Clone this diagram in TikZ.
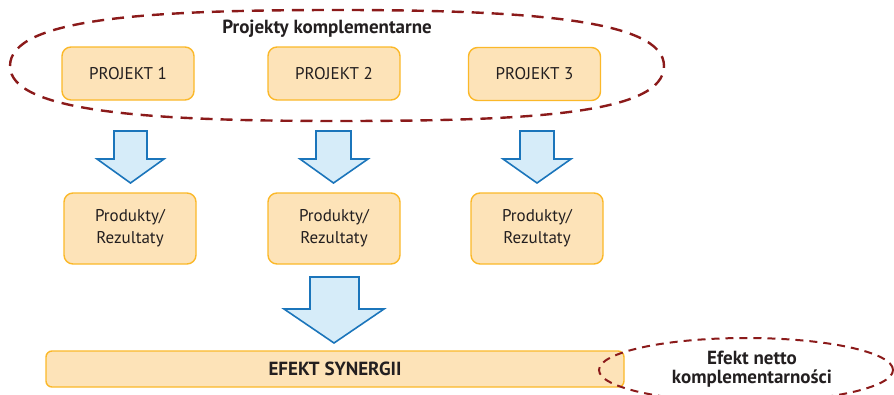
\documentclass[tikz,border=0pt]{standalone}
\usepackage{fontspec}
\setmainfont{PT Sans}
\definecolor{boxfill}{HTML}{FDE3B8}
\definecolor{boxline}{HTML}{FBB829}
\definecolor{arrfill}{HTML}{D6ECF9}
\definecolor{arrline}{HTML}{1B75BB}
\definecolor{dashred}{HTML}{8B1A1A}
\definecolor{txt}{HTML}{231F20}
\begin{document}
\begin{tikzpicture}[x=1pt,y=-1pt,
  box/.style={draw=boxline,fill=boxfill,line width=1.4pt,rounded corners=9pt,
    minimum width=132pt,text=txt,font=\fontsize{17}{22}\selectfont,align=center},
  blockarrow/.style={draw=arrline,fill=arrfill,line width=1.6pt,line join=miter},
  dashring/.style={draw=dashred,line width=2.4pt,dash pattern=on 12pt off 8pt},
  boldtxt/.style={text=txt,font=\bfseries\fontsize{19}{19.5}\selectfont,align=center}]
\useasboundingbox (0,0) rectangle (894,394);
% top dashed ring
\draw[dashring] (10,66) .. controls (10,18) and (150,10) .. (338,10)
  .. controls (530,10) and (664,20) .. (664,66)
  .. controls (664,114) and (530,121) .. (338,121)
  .. controls (150,121) and (10,112) .. (10,66);
\node[boldtxt] (title) at (327,29) {Projekty komplementarne};
% project boxes
\node[box,minimum height=53pt] (p1) at (128,73.5) {PROJEKT 1};
\node[box,minimum height=53pt] (p2) at (334,73.5) {PROJEKT 2};
\node[box,minimum height=53pt] (p3) at (534.5,74) {PROJEKT 3};
% result boxes
\node[box,minimum height=71pt] (r1) at (130,228.5) {Produkty/\\Rezultaty};
\node[box,minimum height=71pt] (r2) at (334,228.5) {Produkty/\\Rezultaty};
\node[box,minimum height=71pt] (r3) at (537,228.5) {Produkty/\\Rezultaty};
% small arrows
\draw[blockarrow] (114,131) -- (147,131) -- (147,159) -- (164,159) -- (130.5,183)
  -- (97,159) -- (114,159) -- cycle;
\draw[blockarrow] (316,131) -- (351,131) -- (351,159) -- (368,159) -- (333.5,183)
  -- (300,159) -- (316,159) -- cycle;
\draw[blockarrow] (520,131) -- (554,131) -- (554,159) -- (571,159) -- (537,183)
  -- (503,159) -- (520,159) -- cycle;
% big arrow
\draw[blockarrow] (310,277) -- (359,277) -- (359,309) -- (384,309) -- (334,343)
  -- (284,309) -- (310,309) -- cycle;
% synergy bar
\node[draw=boxline,fill=boxfill,line width=1.4pt,rounded corners=6pt,
  minimum width=578pt,minimum height=36pt] (bar) at (335,369) {};
\node[boldtxt] (syn) at (335,369) {EFEKT SYNERGII};
% bottom-right dashed ellipse
\draw[dashring,line width=2pt,dash pattern=on 8pt off 6pt] (746,370) ellipse [x radius=147pt,y radius=32pt];
\node[boldtxt] (net) at (752,369) {Efekt netto\\komplementarności};
\end{tikzpicture}
\end{document}
